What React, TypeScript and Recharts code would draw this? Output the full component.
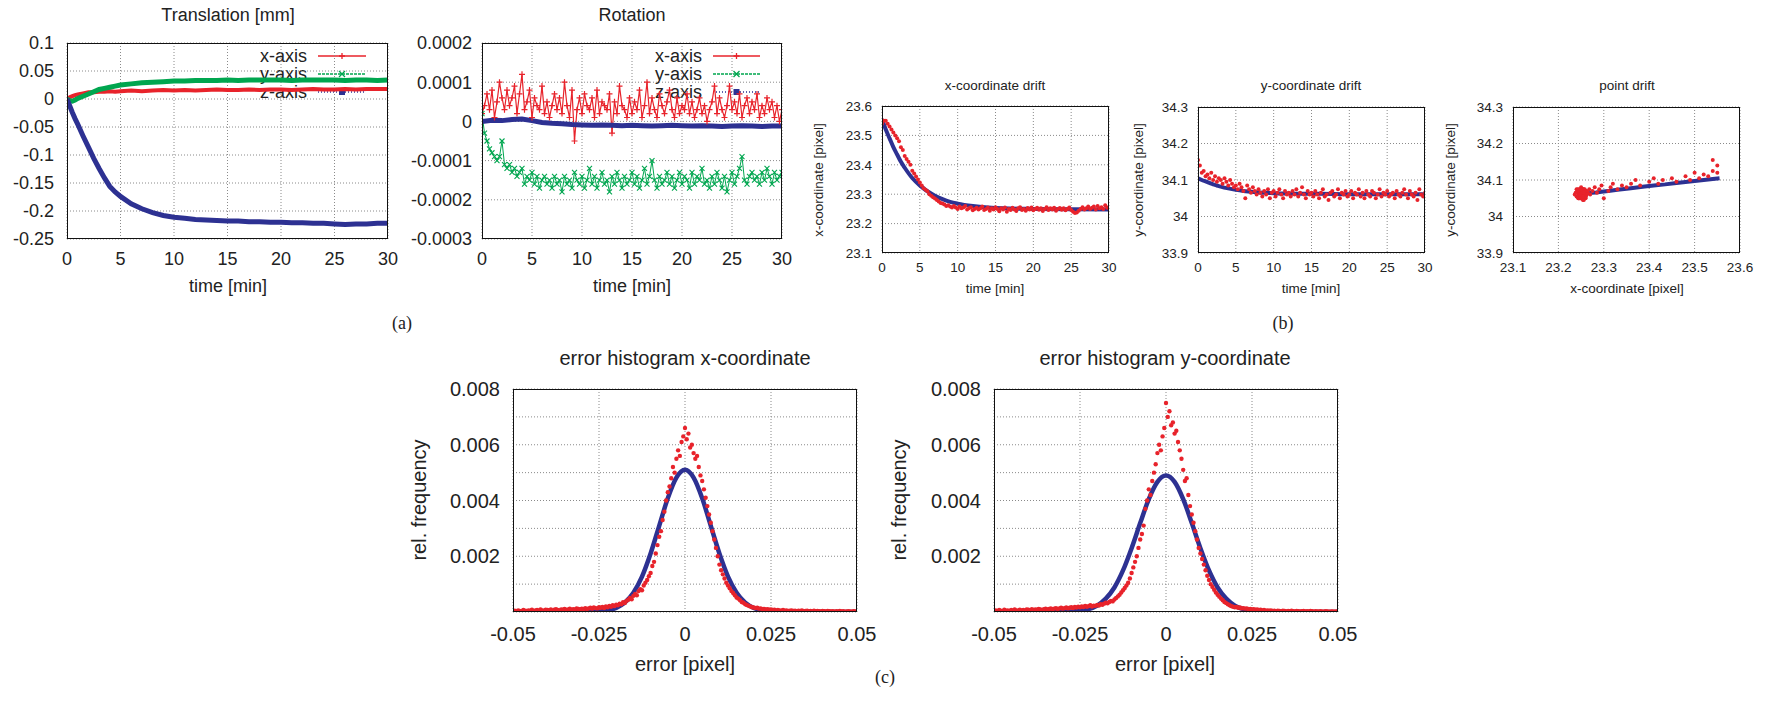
import React from 'react';
import { ComposedChart, Line, XAxis, YAxis, CartesianGrid } from 'recharts';

const RED = '#e8232b';
const GREEN = '#00a64f';
const BLUE = '#2d3192';
const FONT = '"Liberation Sans", Arial, sans-serif';

// ---- (a) translation [mm], sampled at these minutes
const transT = [0, 0.25, 0.5, 0.75, 1, 1.5, 2, 2.5, 3, 3.5, 4, 4.5, 5, 6, 7, 8, 9, 10, 11, 12, 13, 14, 15, 16, 17, 18, 19, 20, 21, 22, 23, 24, 25, 26, 27, 28, 29, 30];
const transX = [0, 0.003, 0.005, 0.007, 0.008, 0.01, 0.012, 0.012, 0.013, 0.013, 0.014, 0.013, 0.014, 0.015, 0.014, 0.015, 0.016, 0.015, 0.016, 0.015, 0.016, 0.017, 0.016, 0.016, 0.017, 0.016, 0.017, 0.017, 0.016, 0.017, 0.018, 0.017, 0.017, 0.018, 0.017, 0.018, 0.018, 0.018];
const transY = [0, -0.003, -0.004, -0.002, 0.001, 0.005, 0.009, 0.013, 0.017, 0.019, 0.021, 0.023, 0.025, 0.027, 0.029, 0.03, 0.031, 0.032, 0.032, 0.033, 0.033, 0.033, 0.034, 0.033, 0.034, 0.034, 0.034, 0.034, 0.033, 0.034, 0.034, 0.034, 0.034, 0.033, 0.034, 0.034, 0.033, 0.034];
const transZ = [0, -0.012, -0.024, -0.035, -0.045, -0.066, -0.086, -0.106, -0.124, -0.141, -0.156, -0.166, -0.174, -0.187, -0.196, -0.203, -0.208, -0.211, -0.213, -0.215, -0.216, -0.217, -0.218, -0.218, -0.219, -0.219, -0.22, -0.22, -0.221, -0.221, -0.222, -0.222, -0.223, -0.224, -0.223, -0.223, -0.222, -0.222];

// ---- (a) rotation, in units of 1e-5, every 0.25 min
const ROT_UNIT = 1e-5;
const rotX = [
  2, 4, 7, 3, 8, 1, 5, 10, 6, 3, 8, 4, 6, 9, 2, 7, 12, 3, 5, 8,
  1, 6, 4, 3, 9, 2, 5, 1, 4, 7, 3, 6, 2, 10, 4, 1, 8, -5, 3, 6,
  2, 7, 4, 3, 6, 1, 8, 2, 5, 4, 3, 7, -3, 5, 2, 9, 4, 3, 1, 6,
  2, 5, 3, 8, 1, 4, 10, 2, 6, 3, 1, 7, 4, 2, 5, 8, 3, 1, 6, 2,
  4, 3, 7, 2, 5, 1, 3, 6, 2, 4, 0, 3, 5, 9, 2, 6, 3, 1, 4, 9,
  3, 5, 2, 7, 1, 4, 6, 2, 5, 3, 7, 1, 4, 2, 6, 3, 5, 1, 4, 0, 3,
];
const rotY = [
  2, -3, -5, -7, -8, -9, -10, -9, -5, -11, -12, -11, -13, -12, -14, -13, -12, -16, -14, -15,
  -13, -16, -14, -17, -15, -14, -16, -15, -17, -14, -16, -15, -18, -14, -16, -15, -17, -13, -15, -16,
  -14, -17, -15, -12, -16, -14, -17, -15, -13, -16, -15, -18, -14, -16, -13, -15, -17, -14, -16, -15,
  -13, -16, -14, -17, -15, -12, -16, -14, -10, -15, -17, -14, -16, -15, -13, -16, -14, -17, -15, -13,
  -16, -14, -15, -17, -13, -16, -14, -15, -12, -16, -15, -17, -14, -16, -13, -15, -17, -14, -18, -15,
  -13, -16, -14, -12, -9, -15, -16, -14, -13, -15, -14, -16, -13, -15, -12, -14, -16, -13, -15, -14, -13,
];
const rotZ = [0, 0.3, 0.2, 0.5, 0.6, 0.2, -0.3, -0.5, -0.6, -0.8, -0.9, -1.0, -0.9, -1.0, -1.1, -1.0, -1.1, -1.2, -1.1, -1.0, -1.1, -1.2, -1.1, -1.2, -1.3, -1.2, -1.1, -1.2, -1.3, -1.2, -1.2];

// ---- (b) measured drift, every 0.25 min
const driftX = [
  23.54, 23.55, 23.55, 23.54, 23.53, 23.52, 23.51, 23.5, 23.49, 23.48,
  23.46, 23.45, 23.43, 23.42, 23.41, 23.4, 23.38, 23.37, 23.36, 23.35,
  23.34, 23.33, 23.32, 23.315, 23.31, 23.3, 23.295, 23.29, 23.285, 23.28,
  23.275, 23.27, 23.268, 23.265, 23.26, 23.262, 23.258, 23.255, 23.26, 23.255,
  23.25, 23.258, 23.252, 23.255, 23.26, 23.248, 23.252, 23.256, 23.245, 23.25,
  23.254, 23.248, 23.252, 23.258, 23.246, 23.25, 23.255, 23.244, 23.252, 23.248,
  23.256, 23.25, 23.242, 23.252, 23.248, 23.255, 23.24, 23.25, 23.246, 23.254,
  23.248, 23.243, 23.252, 23.256, 23.246, 23.25, 23.244, 23.253, 23.248, 23.255,
  23.245, 23.25, 23.254, 23.247, 23.252, 23.243, 23.25, 23.256, 23.246, 23.252,
  23.248, 23.254, 23.244, 23.25, 23.253, 23.247, 23.252, 23.245, 23.25, 23.255,
  23.246, 23.24, 23.236, 23.238, 23.244, 23.25, 23.256, 23.248, 23.252, 23.258,
  23.25, 23.254, 23.258, 23.248, 23.26, 23.252, 23.256, 23.25, 23.262, 23.254, 23.256,
];
const driftY = [
  34.155, 34.14, 34.12, 34.125, 34.11, 34.115, 34.105, 34.12, 34.1, 34.11,
  34.095, 34.105, 34.1, 34.09, 34.105, 34.095, 34.085, 34.1, 34.09, 34.08,
  34.085, 34.075, 34.09, 34.08, 34.07, 34.05, 34.085, 34.075, 34.065, 34.08,
  34.07, 34.06, 34.075, 34.065, 34.055, 34.07, 34.06, 34.075, 34.05, 34.065,
  34.07, 34.055, 34.065, 34.075, 34.06, 34.05, 34.07, 34.06, 34.065, 34.055,
  34.07, 34.06, 34.075, 34.055, 34.065, 34.08, 34.06, 34.05, 34.07, 34.06,
  34.065, 34.055, 34.07, 34.06, 34.05, 34.065, 34.075, 34.055, 34.06, 34.045,
  34.065, 34.07, 34.055, 34.06, 34.075, 34.05, 34.065, 34.06, 34.07, 34.055,
  34.06, 34.07, 34.05, 34.065, 34.06, 34.075, 34.055, 34.065, 34.05, 34.07,
  34.06, 34.055, 34.07, 34.065, 34.05, 34.06, 34.075, 34.055, 34.065, 34.06,
  34.07, 34.055, 34.06, 34.065, 34.05, 34.07, 34.06, 34.055, 34.065, 34.075,
  34.06, 34.05, 34.07, 34.06, 34.055, 34.065, 34.045, 34.075, 34.06, 34.055, 34.065,
];
// fitted curves
const fitT = [0, 0.5, 1, 1.5, 2, 2.5, 3, 4, 5, 6, 7, 8, 9, 10, 12, 14, 16, 20, 25, 30];
const fitX = [23.555, 23.52, 23.49, 23.46, 23.435, 23.41, 23.39, 23.355, 23.33, 23.31, 23.295, 23.283, 23.274, 23.268, 23.26, 23.255, 23.252, 23.25, 23.249, 23.248];
const fitY = [34.105, 34.1, 34.096, 34.092, 34.088, 34.085, 34.082, 34.077, 34.073, 34.07, 34.068, 34.066, 34.065, 34.064, 34.063, 34.062, 34.062, 34.061, 34.061, 34.061];

// ---- (c) error histograms, bins every 0.0005 px from -0.05, rel. frequency in 1e-4
const HIST_UNIT = 1e-4;
const histX = [
  0.3, 0.5, 0.2, 0.6, 0.4, 0.3, 0.7, 0.5, 0.4, 0.6, 0.5, 0.8, 0.4, 0.6, 0.7, 0.5, 0.9, 0.6, 0.5, 0.8,
  0.7, 0.6, 0.9, 0.5, 0.8, 1.0, 0.7, 0.6, 0.9, 0.8, 1.1, 0.7, 0.9, 1.2, 0.8, 1.0, 0.9, 1.3, 1.1, 0.9,
  1.2, 1.0, 1.4, 1.1, 1.3, 1.5, 1.2, 1.6, 1.4, 1.3, 1.7, 1.5, 1.8, 1.4, 2.0, 1.7, 2.2, 1.9, 2.4, 2.1,
  2.6, 2.4, 3.0, 2.8, 3.5, 3.2, 4.0, 4.4, 5.0, 4.6, 5.8, 6.5, 6.0, 7.5, 8.2, 7.8, 9.5, 10.5, 11.5, 12.8,
  14, 16.5, 18, 21, 24, 27, 29, 33, 36, 40, 43, 45, 48, 52, 50, 55, 58, 56, 61, 63,
  66,
  62, 64, 59, 60, 57, 55, 56, 52, 49, 47, 44, 41, 38, 35, 32, 29, 26, 23, 20, 17,
  15, 13.5, 12, 10.5, 9.5, 8.5, 7.5, 6.8, 6, 5.2, 4.8, 4.2, 3.6, 3.3, 2.8, 2.5, 2.2, 2.0, 1.7, 1.6,
  1.4, 1.5, 1.2, 1.3, 1.0, 1.1, 0.9, 1.0, 0.8, 0.9, 0.7, 0.8, 0.6, 0.7, 0.6, 0.5, 0.7, 0.5, 0.6, 0.4,
  0.5, 0.6, 0.4, 0.5, 0.3, 0.5, 0.4, 0.6, 0.3, 0.4, 0.5, 0.3, 0.4, 0.2, 0.5, 0.3, 0.4, 0.3, 0.2, 0.4,
  0.3, 0.2, 0.4, 0.3, 0.2, 0.3, 0.1, 0.3, 0.2, 0.4, 0.2, 0.3, 0.1, 0.2, 0.3, 0.2, 0.1, 0.3, 0.2, 0.2,
];
const histY = [
  0.4, 0.6, 0.3, 0.7, 0.5, 0.4, 0.8, 0.5, 0.6, 0.4, 0.7, 0.5, 0.9, 0.6, 0.5, 0.8, 0.6, 0.7, 0.5, 0.9,
  0.8, 0.6, 1.0, 0.7, 0.9, 0.8, 1.1, 0.9, 0.7, 1.0, 1.2, 0.9, 1.1, 1.3, 1.0, 1.2, 1.4, 1.1, 1.3, 1.5,
  1.2, 1.4, 1.6, 1.3, 1.5, 1.7, 1.4, 1.8, 1.6, 1.9, 1.7, 2.0, 1.8, 2.2, 1.9, 2.1, 2.4, 2.0, 2.3, 2.2,
  2.5, 2.3, 2.8, 2.6, 3.0, 3.3, 3.1, 3.6, 4.0, 3.8, 4.5, 5.0, 5.6, 6.2, 7.0, 7.8, 8.6, 9.5, 10.5, 12,
  14, 16, 18, 20, 23, 26, 28, 31, 37, 40, 44, 42, 47, 50, 53, 57, 60, 58, 63, 66,
  75,
  70, 72, 67, 68, 64, 65, 61, 58, 55, 51, 47, 48, 42, 38, 35, 32, 29, 26, 23, 21,
  19, 17, 15, 13, 11.5, 10, 9, 8, 7, 6.2, 5.5, 4.8, 4.2, 3.6, 3.2, 2.8, 2.4, 2.1, 1.9, 1.7,
  1.8, 1.5, 1.6, 1.3, 1.4, 1.2, 1.3, 1.0, 1.1, 0.9, 1.0, 0.8, 0.9, 0.7, 0.8, 0.6, 0.7, 0.5, 0.6, 0.5,
  0.6, 0.4, 0.5, 0.3, 0.5, 0.4, 0.3, 0.5, 0.4, 0.2, 0.4, 0.3, 0.5, 0.3, 0.2, 0.4, 0.3, 0.2, 0.3, 0.4,
  0.2, 0.3, 0.2, 0.4, 0.3, 0.1, 0.3, 0.2, 0.2, 0.3, 0.1, 0.2, 0.3, 0.2, 0.1, 0.2, 0.2, 0.1, 0.2, 0.2,
];
// gaussian fits, every 0.0025 px from -0.05, in 1e-3
const GAUSS_UNIT = 1e-3;
const gaussX = [0, 0, 0, 0, 0, 0, 0, 0, 0.002, 0.006, 0.02, 0.057, 0.145, 0.335, 0.69, 1.27, 2.1, 3.09, 4.08, 4.82, 5.1, 4.82, 4.08, 3.09, 2.1, 1.27, 0.69, 0.335, 0.145, 0.057, 0.02, 0.006, 0.002, 0, 0, 0, 0, 0, 0, 0, 0];
const gaussY = [0, 0, 0, 0, 0, 0, 0, 0.0015, 0.005, 0.016, 0.042, 0.1, 0.23, 0.48, 0.88, 1.49, 2.29, 3.19, 4.05, 4.67, 4.9, 4.67, 4.05, 3.19, 2.29, 1.49, 0.88, 0.48, 0.23, 0.1, 0.042, 0.016, 0.005, 0.0015, 0, 0, 0, 0, 0, 0, 0];

const minuteTicks = [0, 5, 10, 15, 20, 25, 30];
const errTicks = [-0.05, -0.025, 0, 0.025, 0.05];
const freqTicks = [0, 0.001, 0.002, 0.003, 0.004, 0.005, 0.006, 0.007, 0.008];

type Row = { x: number; y: number };
const zip = (xs: number[], ys: number[], k = 1): Row[] => xs.map((x, i) => ({ x, y: ys[i] * k }));
const onGrid = (start: number, step: number, ys: number[], k = 1): Row[] =>
  ys.map((v, i) => ({ x: start + i * step, y: v * k }));

const plusDot = (color: string) => (p: any) => (
  <path key={`p${p.index}`} d={`M${p.cx - 3} ${p.cy}h6M${p.cx} ${p.cy - 3}v6`} stroke={color} strokeWidth={1.2} fill="none" />
);
const crossDot = (color: string) => (p: any) => (
  <path key={`c${p.index}`} d={`M${p.cx - 2.5} ${p.cy - 2.5}l5 5M${p.cx - 2.5} ${p.cy + 2.5}l5 -5`} stroke={color} strokeWidth={1.1} fill="none" />
);
const pointDot = (color: string, r = 2) => ({ r, fill: color, stroke: 'none' });

interface PanelProps {
  box: [number, number, number, number];
  xDomain: [number, number];
  xTicks: number[];
  yDomain: [number, number];
  yTicks: number[];
  fontSize: number;
  gapX: number;
  gapY: number;
  fmtY?: (v: number) => string;
  children: React.ReactNode;
}

const YW = 100;
const MT = 10;
const MR = 30;
const XH = 50;

const Panel = ({ box, xDomain, xTicks, yDomain, yTicks, fontSize, gapX, gapY, fmtY, children }: PanelProps) => {
  const [l, t, w, h] = box;
  const tick = { fill: '#222', fontSize, fontFamily: FONT };
  return (
    <div style={{ position: 'absolute', left: l - YW, top: t - MT }}>
      <ComposedChart width={w + YW + MR} height={h + MT + XH} margin={{ top: MT, right: MR, left: 0, bottom: 0 }}>
        <CartesianGrid stroke="#8a8a8a" strokeDasharray="1 2" strokeWidth={1} />
        <XAxis
          type="number"
          dataKey="x"
          domain={xDomain}
          ticks={xTicks}
          interval={0}
          allowDataOverflow
          height={XH}
          axisLine={false}
          tickLine={false}
          tickSize={0}
          tickMargin={gapX}
          tick={tick}
          tickFormatter={(v: number) => String(v)}
        />
        <YAxis
          type="number"
          domain={yDomain}
          ticks={yTicks}
          interval={0}
          allowDataOverflow
          width={YW}
          axisLine={false}
          tickLine={false}
          tickSize={0}
          tickMargin={gapY}
          tick={tick}
          tickFormatter={fmtY ?? ((v: number) => String(v))}
        />
        {children}
      </ComposedChart>
      <div
        style={{
          position: 'absolute',
          left: YW,
          top: MT,
          width: w,
          height: h,
          border: '1.5px solid #111',
          boxSizing: 'border-box',
          pointerEvents: 'none',
        }}
      />
    </div>
  );
};

type Txt = [string, number, number, number];
const titles: Txt[] = [
  ['Translation [mm]', 228, 15, 18],
  ['Rotation', 632, 15, 18],
  ['x-coordinate drift', 995, 85, 13.5],
  ['y-coordinate drift', 1311, 85, 13.5],
  ['point drift', 1627, 85, 13.5],
  ['error histogram x-coordinate', 685, 358, 20],
  ['error histogram y-coordinate', 1165, 358, 20],
  ['time [min]', 228, 286, 18],
  ['time [min]', 632, 286, 18],
  ['time [min]', 995, 288, 13.5],
  ['time [min]', 1311, 288, 13.5],
  ['x-coordinate [pixel]', 1627, 288, 13.5],
  ['error [pixel]', 685, 664, 20],
  ['error [pixel]', 1165, 664, 20],
];
const sideLabels: Txt[] = [
  ['x-coordinate [pixel]', 818, 180, 13.5],
  ['y-coordinate [pixel]', 1138, 180, 13.5],
  ['y-coordinate [pixel]', 1450, 180, 13.5],
  ['rel. frequency', 419, 500, 20],
  ['rel. frequency', 899, 500, 20],
];
const captions: Txt[] = [
  ['(a)', 402, 323, 18],
  ['(b)', 1283, 323, 18],
  ['(c)', 885, 677, 18],
];
const legendNames = ['x-axis', 'y-axis', 'z-axis'];

const LegendRows = ({ right, x1, x2 }: { right: number; x1: number; x2: number }) => (
  <g>
    {legendNames.map((name, i) => {
      const y = 56 + i * 18;
      const color = [RED, GREEN, BLUE][i];
      const mid = (x1 + x2) / 2;
      return (
        <g key={name}>
          <text x={right} y={y} textAnchor="end" dominantBaseline="central" fontSize={18} fontFamily={FONT} fill="#222">
            {name}
          </text>
          <line x1={x1} x2={x2} y1={y} y2={y} stroke={color} strokeWidth={1.3} strokeDasharray={i === 0 ? undefined : i === 1 ? '3 1' : '1 2'} />
          {i === 0 && <path d={`M${mid - 3} ${y}h6M${mid} ${y - 3}v6`} stroke={color} strokeWidth={1.3} />}
          {i === 1 && <path d={`M${mid - 3} ${y - 3}l6 6M${mid - 3} ${y + 3}l6 -6`} stroke={color} strokeWidth={1.3} />}
          {i === 2 && <rect x={mid - 3} y={y - 3} width={6} height={6} fill={color} />}
        </g>
      );
    })}
  </g>
);

const Annotations = () => (
  <svg width={1767} height={719} style={{ position: 'absolute', left: 0, top: 0 }}>
    {titles.map(([s, x, y, fs], i) => (
      <text key={`t${i}`} x={x} y={y} textAnchor="middle" dominantBaseline="central" fontSize={fs} fontFamily={FONT} fill="#222">
        {s}
      </text>
    ))}
    {sideLabels.map(([s, x, y, fs], i) => (
      <text key={`s${i}`} x={x} y={y} transform={`rotate(-90 ${x} ${y})`} textAnchor="middle" dominantBaseline="central" fontSize={fs} fontFamily={FONT} fill="#222">
        {s}
      </text>
    ))}
    {captions.map(([s, x, y, fs], i) => (
      <text key={`c${i}`} x={x} y={y} textAnchor="middle" dominantBaseline="central" fontSize={fs} fontFamily='"Liberation Serif", serif' fill="#222">
        {s}
      </text>
    ))}
    <LegendRows right={307} x1={318} x2={366} />
    <LegendRows right={702} x1={713} x2={760} />
  </svg>
);

export default function App() {
  const rot = (v: number) => (v === 0 ? '0' : v.toFixed(4));
  const freq = (v: number) => (Math.round(v * 1000) % 2 === 0 && v > 0 ? v.toFixed(3) : '');
  return (
    <div style={{ position: 'absolute', left: 0, top: 0, width: 1767, height: 719, background: '#fff', overflow: 'hidden' }}>
      <Annotations />

      <Panel box={[67, 43, 321, 196]} xDomain={[0, 30]} xTicks={minuteTicks} yDomain={[-0.25, 0.1]}
        yTicks={[-0.25, -0.2, -0.15, -0.1, -0.05, 0, 0.05, 0.1]} fontSize={18} gapX={13} gapY={13}>
        <Line data={zip(transT, transX)} dataKey="y" type="linear" stroke={RED} strokeWidth={4} dot={false} isAnimationActive={false} />
        <Line data={zip(transT, transY)} dataKey="y" type="linear" stroke={GREEN} strokeWidth={5} dot={false} isAnimationActive={false} />
        <Line data={zip(transT, transZ)} dataKey="y" type="linear" stroke={BLUE} strokeWidth={5} dot={false} isAnimationActive={false} />
      </Panel>

      <Panel box={[482, 43, 300, 196]} xDomain={[0, 30]} xTicks={minuteTicks} yDomain={[-0.0003, 0.0002]}
        yTicks={[-0.0003, -0.0002, -0.0001, 0, 0.0001, 0.0002]} fontSize={18} gapX={13} gapY={10} fmtY={rot}>
        <Line data={onGrid(0, 0.25, rotX, ROT_UNIT)} dataKey="y" type="linear" stroke={RED} strokeWidth={1.2} dot={plusDot(RED)} isAnimationActive={false} />
        <Line data={onGrid(0, 0.25, rotY, ROT_UNIT)} dataKey="y" type="linear" stroke={GREEN} strokeWidth={1} dot={crossDot(GREEN)} isAnimationActive={false} />
        <Line data={onGrid(0, 1, rotZ, ROT_UNIT)} dataKey="y" type="linear" stroke={BLUE} strokeWidth={5} dot={false} isAnimationActive={false} />
      </Panel>

      <Panel box={[882, 106, 227, 147]} xDomain={[0, 30]} xTicks={minuteTicks} yDomain={[23.1, 23.6]}
        yTicks={[23.1, 23.2, 23.3, 23.4, 23.5, 23.6]} fontSize={13.5} gapX={9} gapY={10}>
        <Line data={onGrid(0, 0.25, driftX)} dataKey="y" stroke="none" dot={pointDot(RED)} isAnimationActive={false} />
        <Line data={zip(fitT, fitX)} dataKey="y" type="monotone" stroke={BLUE} strokeWidth={4} dot={false} isAnimationActive={false} />
      </Panel>

      <Panel box={[1198, 107, 227, 146]} xDomain={[0, 30]} xTicks={minuteTicks} yDomain={[33.9, 34.3]}
        yTicks={[33.9, 34, 34.1, 34.2, 34.3]} fontSize={13.5} gapX={9} gapY={10}>
        <Line data={onGrid(0, 0.25, driftY)} dataKey="y" stroke="none" dot={pointDot(RED)} isAnimationActive={false} />
        <Line data={zip(fitT, fitY)} dataKey="y" type="monotone" stroke={BLUE} strokeWidth={4} dot={false} isAnimationActive={false} />
      </Panel>

      <Panel box={[1513, 107, 227, 146]} xDomain={[23.1, 23.6]} xTicks={[23.1, 23.2, 23.3, 23.4, 23.5, 23.6]} yDomain={[33.9, 34.3]}
        yTicks={[33.9, 34, 34.1, 34.2, 34.3]} fontSize={13.5} gapX={9} gapY={10}>
        <Line data={zip(driftX, driftY)} dataKey="y" stroke="none" dot={pointDot(RED)} isAnimationActive={false} />
        <Line data={zip(fitX, fitY)} dataKey="y" type="linear" stroke={BLUE} strokeWidth={4} dot={false} isAnimationActive={false} />
      </Panel>

      <Panel box={[513, 389, 344, 223]} xDomain={[-0.05, 0.05]} xTicks={errTicks} yDomain={[0, 0.008]}
        yTicks={freqTicks} fontSize={20} gapX={15} gapY={13} fmtY={freq}>
        <Line data={onGrid(-0.05, 0.0005, histX, HIST_UNIT)} dataKey="y" stroke="none" dot={pointDot(RED, 2.2)} isAnimationActive={false} />
        <Line data={onGrid(-0.05, 0.0025, gaussX, GAUSS_UNIT)} dataKey="y" type="monotone" stroke={BLUE} strokeWidth={4.5} dot={false} isAnimationActive={false} />
      </Panel>

      <Panel box={[994, 389, 344, 223]} xDomain={[-0.05, 0.05]} xTicks={errTicks} yDomain={[0, 0.008]}
        yTicks={freqTicks} fontSize={20} gapX={15} gapY={13} fmtY={freq}>
        <Line data={onGrid(-0.05, 0.0005, histY, HIST_UNIT)} dataKey="y" stroke="none" dot={pointDot(RED, 2.2)} isAnimationActive={false} />
        <Line data={onGrid(-0.05, 0.0025, gaussY, GAUSS_UNIT)} dataKey="y" type="monotone" stroke={BLUE} strokeWidth={4.5} dot={false} isAnimationActive={false} />
      </Panel>
    </div>
  );
}
